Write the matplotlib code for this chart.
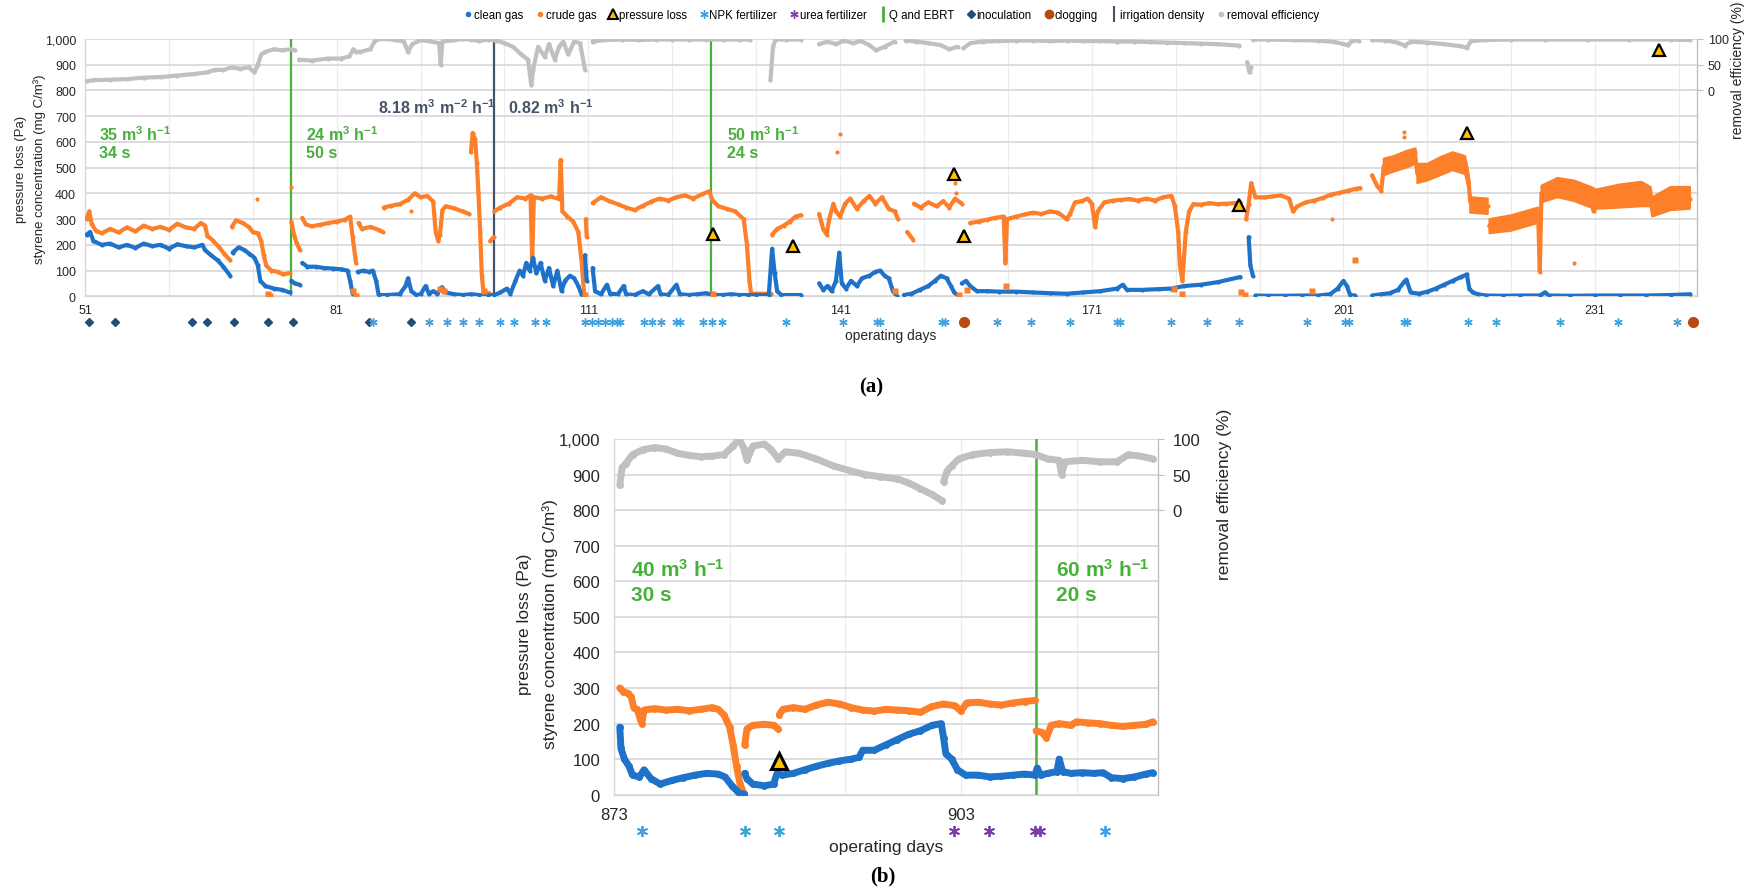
import numpy as np
import matplotlib
matplotlib.use("Agg")
import matplotlib.pyplot as plt
from matplotlib.lines import Line2D
from matplotlib.ticker import FuncFormatter

nan = np.nan
GAP = (nan, nan)

# ---------------- panel (a) data: (operating day, value) ----------------
crude_a = [(51.2, 300), (51.5, 330), (51.8, 280), (52.3, 255), (53, 245), (54, 262), (55, 248), (56, 268),
           (57, 252), (58, 275), (59, 262), (60, 270), (61, 258), (62, 282), (63, 268), (64, 262), (64.8, 285),
           (65.3, 275), (65.6, 235), (66.3, 215), (67, 190), (67.6, 165), (68.3, 140), GAP,
           (68.5, 270), (69, 295), (69.8, 285), (70.5, 270), (71, 250), (71.6, 245), (72, 215), (72.3, 160),
           (72.6, 120), (73.2, 100), (74, 95), (74.6, 85), (75.4, 90), GAP,
           (75.6, 290), (75.9, 240), (76.2, 210), (76.6, 180), GAP,
           (76.9, 305), (77.3, 280), (78, 272), (79, 278), (80, 285), (81, 290), (82, 298), (82.6, 310),
           (82.9, 230), (83.3, 130), GAP,
           (83.6, 285), (84, 262), (85, 270), (86, 258), (86.5, 250), GAP,
           (86.6, 345), (87.5, 352), (88.5, 358), (89.5, 375), (90.3, 400), (91, 385), (91.8, 390), (92.5, 368),
           (92.8, 250), (93.1, 215), (93.3, 240), (93.6, 335), (94, 350), (95, 342), (96, 330), (96.8, 320), GAP,
           (97, 560), (97.2, 635), (97.5, 610), (97.7, 520), (97.9, 400), (98.1, 250), (98.3, 80), (98.5, 15),
           (99.2, 12), GAP,
           (99.3, 215), (99.7, 230), GAP,
           (99.8, 330), (100.5, 345), (101.5, 360), (102.5, 385), (103.5, 380), (104.1, 392), (104.3, 140),
           (104.5, 385), (105.5, 380), (106.5, 388), (107.5, 378), (107.7, 530), (107.9, 330), (108.5, 310),
           (109.2, 290), (109.8, 250), (110.2, 130), (110.5, 10), GAP,
           (110.7, 300), (110.8, 230), GAP,
           (111.5, 362), (112.5, 385), (113.5, 370), (114.5, 358), (115.5, 345), (116.5, 335), (117.5, 352),
           (118.5, 368), (119.5, 380), (120.5, 372), (121.5, 385), (122.5, 392), (123.5, 380), (124.5, 396),
           (125.4, 408), (125.8, 372), (126.5, 350), (127.5, 340), (128.5, 330), (129.5, 300), (129.9, 200),
           (130.2, 60), (130.4, 10), (132.8, 10), GAP,
           (132.9, 240), (133.5, 262), (134.3, 275), (135, 290), (135.7, 310), (136.3, 315), GAP,
           (138.5, 320), (139, 260), (139.4, 240), (139.7, 300), (140.2, 360), (140.5, 330), (141, 310),
           (141.6, 360), (142.2, 380), (143, 340), (143.8, 370), (144.5, 390), (145.2, 360), (146, 385),
           (146.8, 340), (147.5, 330), (147.9, 300), GAP,
           (149, 250), (149.7, 220), GAP,
           (149.8, 360), (150.6, 345), (151.5, 365), (152.5, 350), (153.3, 370), (154, 345), (154.7, 380),
           (155.5, 360), GAP,
           (156.5, 285), (157.5, 290), (158.5, 298), (159.5, 305), (160.5, 310), (160.7, 130), (160.9, 300),
           (162, 310), (163, 318), (164, 325), (165, 320), (166, 330), (167, 325), (168, 300), (168.4, 320),
           (169, 365), (169.8, 370), (170.5, 380), (171, 360), (171.4, 270), (171.7, 330), (172.5, 365),
           (173.5, 372), (174.5, 375), (175.5, 378), (176.5, 372), (177.5, 380), (178.5, 372), (179.5, 385),
           (180.5, 390), (180.9, 350), (181.3, 250), (181.5, 120), (181.8, 60), (182.2, 250), (182.6, 330),
           (183.1, 358), (184, 356), (185, 362), (186, 358), (187, 360), (188, 362), (188.7, 365), GAP,
           (189.4, 300), (189.7, 360), (190, 440), (190.5, 385), (191.5, 384), (192.5, 388), (193.5, 392),
           (194.5, 380), (195, 330), (195.5, 350), (196.5, 365), (197.5, 372), (198.5, 382), (199.5, 395),
           (200.5, 402), (201.5, 410), (202.5, 418), (203, 420), GAP,
           (204.4, 470), (205, 430), (205.5, 410), (205.8, 505), (206.5, 520), (207.5, 525), (208.5, 540),
           (209.5, 560), (209.8, 480), (210.5, 470), (211.5, 495), (212.5, 510), (213.5, 525), (214.5, 540),
           (215.5, 515), (215.9, 450), (216.1, 370), (216.5, 345), (217.5, 355), (218.2, 350), GAP,
           (218.4, 275), (219.5, 270), (220.5, 280), (221.5, 290), (222.5, 300), (223.5, 312), (224.2, 320),
           (224.4, 95), (224.6, 400), (225.5, 415), (226.5, 425), (227.5, 420), (228.5, 410), (229.5, 400),
           (230.5, 385), (230.8, 330), (231.1, 375), (232.5, 378), (233.5, 385), (234.5, 380), (235.5, 392),
           (236.5, 388), (237.5, 380), (237.8, 350), (238.5, 360), (239.5, 368), (240.5, 372), (241.5, 375),
           (242.3, 378)]

# noisy stretches of crude gas: (day, low, high)
crude_band_a = [(205.8, 470, 535), (207, 485, 545), (208.5, 500, 565), (209.6, 515, 575), GAP + (nan,),
                (209.8, 440, 515), (211, 450, 515), (212.5, 470, 540), (214, 490, 560), (215.5, 475, 545),
                (215.9, 420, 480), GAP + (nan,),
                (216.1, 325, 385), (218.2, 320, 380), GAP + (nan,),
                (218.4, 245, 300), (221, 255, 315), (224.2, 285, 345), GAP + (nan,),
                (224.6, 365, 430), (226.5, 385, 460), (228.5, 370, 450), (230.5, 345, 425), (231.1, 340, 415),
                (234, 345, 435), (236.5, 350, 445), (237.6, 350, 425), (237.8, 310, 385), (240, 335, 425),
                (242.3, 340, 425)]

crude_low_a = [(72.8, 10), (73.0, 0), (83.0, 20), (83.3, 0), (93.3, 30), (93.8, 20), (98.6, 20), (110.6, 5),
               (125.8, 8), (147.6, 20), (155.2, 5), (156.1, 25), (160.8, 40), (180.8, 30), (181.8, 10),
               (188.8, 15), (189.3, 5), (197.3, 20), (202.4, 140)]

crude_spikes_a = [(71.5, 380), (75.5, 423), (89.9, 330), (141.0, 630), (140.6, 560), (154.7, 440),
                  (154.8, 400), (199.6, 300), (208.2, 640), (208.2, 620), (228.5, 130)]

clean_a = [(51.2, 240), (51.6, 250), (52, 215), (53, 200), (54, 205), (55, 190), (56, 200), (57, 188), (58, 205),
           (59, 195), (60, 200), (61, 185), (62, 202), (63, 195), (64, 190), (65, 200), (65.3, 180), (66, 160),
           (66.8, 140), (67.5, 115), (68.3, 80), GAP,
           (68.6, 170), (69.3, 190), (70, 180), (70.6, 165), (71.2, 150), (71.6, 120), (71.9, 60), (72.5, 40),
           (73.5, 30), (74.5, 25), (75.4, 15), GAP,
           (75.6, 60), (76, 50), (76.6, 45), GAP,
           (76.9, 130), (77.5, 115), (78.5, 115), (79.5, 110), (80.5, 108), (81.5, 105), (82.3, 100), (82.6, 60),
           (82.9, 10), GAP,
           (83.5, 95), (84.2, 100), (84.8, 95), (85.3, 100), (85.7, 60), (86, 5), (87, 5), (88.5, 8), (89.2, 40),
           (89.5, 70), (89.9, 20), (90.5, 5), (91, 8), (91.6, 40), (92, 10), (92.5, 20), (93, 10), (93.5, 35),
           (94, 15), (95, 8), (96, 5), (97, 8), (98, 5), (99, 3), (99.8, 5), (100.5, 15), (101.3, 30),
           (101.7, 10), (102.3, 60), (102.8, 100), (103.2, 80), (103.6, 130), (104, 100), (104.4, 150),
           (104.8, 90), (105.3, 130), (105.8, 60), (106.3, 110), (106.8, 40), (107.3, 100), (107.8, 20),
           (108.2, 60), (108.8, 80), (109.3, 70), (109.8, 40), (110.2, 5), GAP,
           (110.6, 160), (110.7, 100), (110.8, 60), GAP,
           (111.5, 110), (111.8, 20), (112.5, 8), (113.2, 45), (113.6, 10), (114.5, 8), (115.2, 40), (115.5, 8),
           (116.5, 5), (117.5, 20), (118.2, 8), (119.3, 40), (119.6, 8), (120.5, 5), (121.5, 45), (121.9, 8),
           (123, 5), (124, 8), (125, 12), (126, 5), (127, 5), (128, 8), (129, 5), (130, 5), (131, 5),
           (132.5, 5), (132.9, 185), (133.2, 90), (133.5, 20), (134, 5), (136.3, 5), GAP,
           (138.5, 50), (139, 25), (139.5, 40), (140, 20), (140.5, 60), (140.9, 170), (141.2, 50), (141.7, 30),
           (142.3, 60), (143, 40), (143.6, 70), (144.5, 80), (145.2, 95), (145.8, 100), (146.3, 80),
           (146.8, 70), (147.3, 20), (147.8, 0), GAP,
           (148.6, 5), (149.5, 10), (150.5, 25), (151.5, 40), (152.3, 60), (153, 80), (153.7, 70), (154.2, 40),
           (154.6, 15), (155, 5), GAP,
           (155.5, 50), (156, 60), (156.5, 40), (157.3, 20), (158.5, 20), (160, 18), (162, 18), (164, 15),
           (166, 12), (168, 10), (170, 15), (172, 20), (174, 30), (174.7, 45), (175.2, 25), (177, 25),
           (179, 28), (180.5, 30), (182, 40), (184, 45), (186, 55), (188.7, 75), GAP,
           (189.7, 230), (189.9, 120), (190.2, 80), GAP,
           (190.5, 3), (192, 2), (194, 2), (196, 3), (198, 3), (199.4, 8), (200.3, 30), (201, 60), (201.4, 40),
           (201.8, 5), (202.4, 3), GAP,
           (204.4, 3), (205.5, 8), (206.5, 12), (207.5, 25), (208.2, 55), (208.5, 65), (209, 15), (210, 10),
           (211, 18), (212, 30), (213, 45), (214, 60), (215, 75), (215.7, 85), (216, 30), (216.4, 15), (217, 8),
           (218, 3), (220, 2), (222, 3), (224.4, 3), (225, 15), (225.5, 3), (228, 2), (231, 3), (234, 3),
           (237, 3), (240, 5), (242.3, 8)]

# removal efficiency in %
removal_a = [(51.2, 18), (52, 20), (54, 21), (56, 22), (58, 25), (60, 26), (62, 29), (64, 32), (65.5, 35),
             (66.5, 40), (67.5, 40), (68.5, 45), (69.5, 42), (70.5, 45), (71.2, 35), (71.6, 50), (72, 70),
             (72.5, 75), (73.5, 80), (74.5, 78), (75.5, 80), (76, 78), GAP,
             (76.5, 60), (78, 58), (80, 62), (81.5, 62), (82.5, 66), (83, 80), (83.3, 75), (83.8, 75), (85, 80),
             (85.5, 95), (86, 100), (87, 100), (88, 98), (89, 95), (89.5, 75), (90, 90), (91, 98), (92, 96),
             (93.2, 92), (93.4, 50), (93.6, 95), (95, 98), (96, 100), (97, 99), (98, 96), (99, 99), (100, 97),
             (101, 92), (102, 85), (103, 70), (103.8, 60), (104.2, 10), (104.4, 40), (105, 85), (105.8, 65),
             (106.3, 90), (107, 60), (107.5, 85), (108, 95), (108.6, 70), (109.3, 95), (110, 92), (110.6, 40), GAP,
             (111.5, 95), (113, 98), (115, 99), (117, 98), (119, 99), (121, 99), (123, 99), (125, 99), (127, 99),
             (129, 99), (130.3, 99), GAP,
             (132.7, 20), (133, 85), (133.3, 99), (134.5, 99), (136.3, 99), GAP,
             (138.5, 90), (139.5, 95), (140.5, 90), (141.5, 97), (142.5, 92), (143.5, 96), (144.5, 88),
             (145.3, 78), (146.3, 85), (147.5, 95), GAP,
             (148.8, 97), (150, 95), (151.5, 92), (153, 88), (154, 80), (155, 85), GAP,
             (155.7, 82), (156.5, 92), (158, 95), (160, 96), (162, 97), (164, 97), (166, 96), (168, 97),
             (170, 96), (172, 96), (174, 95), (176, 95), (178, 94), (180, 93), (182, 92), (184, 91), (186, 90),
             (188.6, 87), GAP,
             (189.5, 55), (189.8, 35), (190, 45), GAP,
             (190.2, 99), (192, 99), (195, 98), (198, 97), (200, 94), (201.5, 88), (202, 96), (202.8, 97), GAP,
             (204.4, 98), (206, 97), (207.5, 93), (208.3, 87), (209, 95), (211, 93), (213, 90), (215, 86),
             (215.7, 83), (216.2, 96), (218, 98), (221, 99), (225, 99), (230, 99), (235, 99), (240, 99),
             (242.3, 98)]

pressure_a = [(125.8, 242), (135.4, 197), (154.6, 475), (155.8, 236), (188.6, 355), (215.7, 635), (238.6, 957)]
inoculation_a = [51.5, 54.6, 63.7, 65.6, 68.7, 72.8, 75.8, 84.8, 89.9]
clogging_a = [155.8, 242.7]
npk_a = [85.3, 92.0, 94.1, 96.1, 98.0, 100.5, 102.1, 104.6, 106.0, 110.6, 111.4, 112.2, 113.0, 113.8, 114.4,
         114.8, 117.6, 118.6, 119.6, 121.5, 121.9, 124.7, 125.7, 126.9, 134.6, 141.4, 145.4, 145.8, 153.1,
         153.5, 159.7, 163.7, 168.4, 174.0, 174.4, 180.5, 184.7, 188.5, 196.7, 201.2, 201.6, 208.2, 208.6,
         215.8, 219.2, 226.8, 233.7, 240.7]
q_change_a = [75.55, 125.6]
irrigation_a = [99.75]

# ---------------- panel (b) data ----------------
crude_b = [(873.5, 300), (873.8, 290), (874.2, 285), (874.5, 275), (874.7, 245), (875, 240), (875.4, 200),
           (875.6, 238), (876.5, 242), (877.5, 238), (878.5, 240), (879.5, 236), (880.5, 240), (881.5, 245),
           (882, 240), (882.5, 225), (883, 190), (883.3, 140), (883.6, 80), (883.9, 30), (884.2, 5), GAP,
           (884.3, 140), (884.5, 185), (885, 195), (886, 198), (886.8, 195), (887.2, 185), GAP,
           (887.3, 225), (887.6, 240), (888.5, 245), (889.5, 240), (890.5, 252), (891.5, 260), (892.5, 255),
           (893.5, 245), (894.5, 238), (895.5, 235), (896.5, 240), (897.5, 238), (898.5, 236), (899.5, 232),
           (900.5, 248), (901.5, 255), (902.5, 250), (903, 235), (903.5, 258), (904.5, 260), (905.5, 255),
           (906.5, 252), (907.5, 258), (908.5, 262), (909.4, 265), GAP,
           (909.5, 180), (910, 175), (910.4, 160), (910.8, 195), (911.5, 200), (912.5, 195), (913, 205),
           (914, 202), (915, 200), (916, 195), (917, 192), (918, 195), (919, 198), (919.6, 205)]

clean_b = [(873.5, 190), (873.6, 130), (873.9, 100), (874.3, 80), (874.6, 55), (875.2, 50), (875.6, 70),
           (876.2, 45), (877, 30), (878, 40), (879, 48), (880, 55), (881, 60), (882, 58), (882.6, 50),
           (883.2, 25), (883.8, 5), (884.2, 2), GAP,
           (884.3, 60), (884.5, 45), (885, 30), (886, 25), (886.8, 30), (887.1, 60), (887.5, 55), (888.5, 60),
           (889.5, 70), (890.5, 80), (891.5, 88), (892.5, 95), (893.5, 100), (894.2, 105), (894.5, 125),
           (895.5, 125), (896.5, 140), (897.5, 155), (898.5, 170), (899.5, 180), (900.5, 195), (901.3, 200),
           (901.5, 160), (901.7, 115), (902.2, 100), (902.7, 70), (903.4, 55), (904.5, 55), (905.5, 50),
           (906.5, 52), (907.5, 55), (908.5, 58), (909.4, 55), (909.6, 75), (909.9, 55), (910.5, 60),
           (911.3, 65), (911.5, 100), (911.8, 65), (912.5, 60), (913.5, 62), (914.5, 60), (915.3, 62),
           (916, 48), (917, 45), (918, 50), (919, 58), (919.6, 62)]

removal_b = [(873.5, 35), (873.7, 60), (874, 65), (874.6, 78), (875.5, 85), (876.5, 88), (877.5, 86),
             (878.5, 80), (879.5, 77), (880.5, 75), (881.5, 76), (882.5, 78), (883.3, 90), (883.8, 100),
             (884.2, 88), (884.5, 70), (885, 90), (886, 93), (886.6, 85), (887.2, 72), (887.8, 82), (889, 80),
             (890.5, 72), (892, 62), (893.5, 55), (894.7, 50), (896, 47), (897.5, 44), (898.5, 38), (899.5, 30),
             (900.5, 22), (901.4, 13), GAP,
             (901.5, 40), (901.8, 55), (902.2, 62), (902.8, 72), (904, 78), (905.5, 81), (907, 82), (908.5, 80),
             (909.5, 78), (910.5, 72), (911.5, 70), (911.7, 50), (912, 68), (913.5, 70), (915, 68), (916.5, 68),
             (917.5, 78), (918.5, 76), (919.6, 72)]

pressure_b = [(887.3, 96)]
npk_b = [875.4, 884.3, 887.3, 915.5]
urea_b = [902.4, 905.4, 909.4, 909.8]
q_change_b = [909.5]

# ---------------- styling ----------------
BLUE = "#1f72c9"
ORANGE = "#fd7f2a"
GRAY = "#c0c0c0"
GREEN = "#46b03a"
SLATE = "#44546a"
DIAMOND = "#1f4e79"
NPK = "#3fa2e0"
UREA = "#7d3ca8"
CLOG = "#b84a0d"
TRI = "#ffc000"
ASTER = (6, 2, 0)

NARROW = ["Liberation Sans Narrow", "Liberation Sans", "DejaVu Sans"]
REGULAR = ["Liberation Sans", "DejaVu Sans"]
plt.rcParams["font.family"] = REGULAR
plt.rcParams["mathtext.fontset"] = "custom"
plt.rcParams["mathtext.rm"] = "Liberation Sans"
plt.rcParams["mathtext.bf"] = "Liberation Sans:bold"
plt.rcParams["mathtext.it"] = "Liberation Sans:italic"

W, H = 1760, 895


def xy(points):
    arr = np.array(points, dtype=float)
    return arr[:, 0], arr[:, 1]


def style_axes(ax, ax2, fs, fam, xticks, label_every, lpad, bpad, rpad):
    ax.set_ylim(0, 1000)
    ax.set_yticks(np.arange(0, 1001, 100))
    ax.yaxis.set_major_formatter(FuncFormatter(lambda v, p: f"{int(v):,}"))
    ax.set_xticks(xticks)
    ax.set_xticklabels([str(d) if (d - xticks[0]) % label_every == 0 else "" for d in xticks])
    ax.yaxis.grid(True, color="#dadada", lw=1.3)
    ax.xaxis.grid(True, color="#ececec", lw=0.9)
    ax.set_axisbelow(True)
    for s in ["left", "bottom", "right"]:
        ax.spines[s].set_color("#d9d9d9")
        ax.spines[s].set_linewidth(1.0)
    ax.spines["top"].set_visible(False)
    ax.tick_params(axis="y", length=0, pad=lpad)
    ax.tick_params(axis="x", length=0, pad=bpad)
    for lab in ax.get_xticklabels() + ax.get_yticklabels():
        lab.set_fontfamily(fam)
        lab.set_fontsize(fs)
        lab.set_color("#262626")
    ax2.set_ylim(-400, 100)
    ax2.set_yticks([0, 50, 100])
    for s in ["left", "bottom", "top"]:
        ax2.spines[s].set_visible(False)
    ax2.spines["right"].set_color("#bfbfbf")
    ax2.tick_params(axis="y", length=4, color="#bfbfbf", pad=rpad)
    for lab in ax2.get_yticklabels():
        lab.set_fontfamily(fam)
        lab.set_fontsize(fs)
        lab.set_color("#262626")


def draw_series(ax, pts, color, lw, ms):
    x, y = xy(pts)
    ax.plot(x, y, color=color, lw=lw, solid_capstyle="round", solid_joinstyle="round",
            marker="o", ms=ms, mec="none", zorder=3)


fig = plt.figure(figsize=(W / 100, H / 100), dpi=100)

# ---------------- panel (a) ----------------
ax_a = fig.add_axes([85 / W, 1 - 297.3 / H, (1696.7 - 85) / W, (297.3 - 40) / H])
ax_a.set_xlim(51, 243.1)
ax_a2 = ax_a.twinx()
style_axes(ax_a, ax_a2, 9, NARROW, list(range(51, 244, 10)), 30, 6.5, 5.5, 4)

for d in q_change_a:
    ax_a.axvline(d, color=GREEN, lw=1.6, zorder=2)
for d in irrigation_a:
    ax_a.axvline(d, color=SLATE, lw=1.6, zorder=2)

band = np.array(crude_band_a, dtype=float)
ax_a.fill_between(band[:, 0], band[:, 1], band[:, 2], color=ORANGE, lw=1.5, ec=ORANGE, zorder=3)
draw_series(ax_a, crude_a, ORANGE, 3.0, 3.0)
draw_series(ax_a, clean_a, BLUE, 3.0, 3.0)
cx, cy = xy(crude_low_a)
ax_a.plot(cx, cy, ls="none", marker="s", ms=4, color=ORANGE, mec="none", zorder=3)
sx, sy = xy(crude_spikes_a)
ax_a.plot(sx, sy, ls="none", marker="o", ms=3, color=ORANGE, mec="none", zorder=3)
gx, gy = xy(removal_a)
ax_a2.plot(gx, gy, color=GRAY, lw=3.0, solid_capstyle="round", marker="o", ms=3.0, mec="none", zorder=3)
px_, py_ = xy(pressure_a)
ax_a.plot(px_, py_, ls="none", marker="^", ms=8, mfc=TRI, mec="black", mew=1.6, zorder=6, clip_on=False)

tr_a = ax_a.get_xaxis_transform()
ax_a.plot(inoculation_a, [-0.101] * len(inoculation_a), ls="none", marker="D", ms=4.2, color=DIAMOND,
          transform=tr_a, clip_on=False)
ax_a.plot(npk_a, [-0.101] * len(npk_a), ls="none", marker=ASTER, ms=6, mew=1.0, color=NPK,
          transform=tr_a, clip_on=False)
ax_a.plot(clogging_a, [-0.101] * len(clogging_a), ls="none", marker="o", ms=7, color=CLOG,
          transform=tr_a, clip_on=False)

ax_a.text(0.5, -0.150, "operating days", transform=ax_a.transAxes, ha="center", va="center",
          fontsize=10, family=NARROW, color="#262626")

ann_a = dict(fontsize=11.5, fontweight="bold", family=NARROW, va="center", ha="left", zorder=7)
ax_a.text(52.7, 631, r"35 m$^{\mathbf{3}}$ h$^{\mathbf{-1}}$", color=GREEN, **ann_a)
ax_a.text(52.7, 560, "34 s", color=GREEN, **ann_a)
ax_a.text(77.4, 631, r"24 m$^{\mathbf{3}}$ h$^{\mathbf{-1}}$", color=GREEN, **ann_a)
ax_a.text(77.4, 560, "50 s", color=GREEN, **ann_a)
ax_a.text(85.9, 737, r"8.18 m$^{\mathbf{3}}$ m$^{\mathbf{-2}}$ h$^{\mathbf{-1}}$", color=SLATE, **ann_a)
ax_a.text(101.45, 737, r"0.82 m$^{\mathbf{3}}$ h$^{\mathbf{-1}}$", color=SLATE, **ann_a)
ax_a.text(127.55, 631, r"50 m$^{\mathbf{3}}$ h$^{\mathbf{-1}}$", color=GREEN, **ann_a)
ax_a.text(127.55, 560, "24 s", color=GREEN, **ann_a)

fig.text(21 / W, 1 - 169 / H, "pressure loss (Pa)", rotation=90, ha="center", va="center",
         fontsize=9.5, color="#262626")
fig.text(40 / W, 1 - 169 / H, "styrene concentration (mg C/m³)", rotation=90, ha="center", va="center",
         fontsize=9.5, color="#262626")
fig.text(1738 / W, 1 - 70 / H, "removal efficiency (%)", rotation=90, ha="center", va="center",
         fontsize=10, color="#262626")

# ---------------- panel (b) ----------------
ax_b = fig.add_axes([614 / W, 1 - 795.7 / H, (1157.5 - 614) / W, (795.7 - 440) / H])
ax_b.set_xlim(873, 920)
ax_b2 = ax_b.twinx()
style_axes(ax_b, ax_b2, 12, REGULAR, list(range(873, 921, 10)), 30, 10, 8.5, 7)

for d in q_change_b:
    ax_b.axvline(d, color=GREEN, lw=1.8, zorder=2)

draw_series(ax_b, crude_b, ORANGE, 5.0, 5.0)
draw_series(ax_b, clean_b, BLUE, 5.0, 5.0)
gx, gy = xy(removal_b)
ax_b2.plot(gx, gy, color=GRAY, lw=5.0, solid_capstyle="round", marker="o", ms=5.0, mec="none", zorder=3)
px_, py_ = xy(pressure_b)
ax_b.plot(px_, py_, ls="none", marker="^", ms=12, mfc=TRI, mec="black", mew=2.2, zorder=6)

tr_b = ax_b.get_xaxis_transform()
ax_b.plot(npk_b, [-0.101] * len(npk_b), ls="none", marker=ASTER, ms=8, mew=1.3, color=NPK,
          transform=tr_b, clip_on=False)
ax_b.plot(urea_b, [-0.101] * len(urea_b), ls="none", marker=ASTER, ms=8, mew=1.3, color=UREA,
          transform=tr_b, clip_on=False)

ax_b.text(0.5, -0.147, "operating days", transform=ax_b.transAxes, ha="center", va="center",
          fontsize=12.5, color="#262626")

ann_b = dict(fontsize=15, fontweight="bold", va="center", ha="left", zorder=7)
ax_b.text(874.45, 634, r"40 m$^{\mathbf{3}}$ h$^{\mathbf{-1}}$", color=GREEN, **ann_b)
ax_b.text(874.45, 562, "30 s", color=GREEN, **ann_b)
ax_b.text(911.2, 634, r"60 m$^{\mathbf{3}}$ h$^{\mathbf{-1}}$", color=GREEN, **ann_b)
ax_b.text(911.2, 562, "20 s", color=GREEN, **ann_b)

fig.text(524 / W, 1 - 624 / H, "pressure loss (Pa)", rotation=90, ha="center", va="center",
         fontsize=12.5, color="#262626")
fig.text(550 / W, 1 - 624 / H, "styrene concentration (mg C/m³)", rotation=90, ha="center", va="center",
         fontsize=12.5, color="#262626")
fig.text(1224 / W, 1 - 494 / H, "removal efficiency (%)", rotation=90, ha="center", va="center",
         fontsize=12.5, color="#262626")

# panel tags
fig.text(871 / W, 1 - 387 / H, "(a)", ha="center", va="center", fontsize=15, fontweight="bold",
         family=["Liberation Serif", "DejaVu Serif"])
fig.text(883 / W, 1 - 876 / H, "(b)", ha="center", va="center", fontsize=15, fontweight="bold",
         family=["Liberation Serif", "DejaVu Serif"])

# ---------------- legend ----------------
handles = [
    Line2D([], [], ls="none", marker="o", ms=3, color=BLUE, label="clean gas"),
    Line2D([], [], ls="none", marker="o", ms=3, color=ORANGE, label="crude gas"),
    Line2D([], [], ls="none", marker="^", ms=7, mfc=TRI, mec="black", mew=1.5, label="pressure loss"),
    Line2D([], [], ls="none", marker=ASTER, ms=6, mew=1.0, color=NPK, label="NPK fertilizer"),
    Line2D([], [], ls="none", marker=ASTER, ms=6, mew=1.0, color=UREA, label="urea fertilizer"),
    Line2D([], [], ls="none", marker="|", ms=11, mew=2, color=GREEN, label="Q and EBRT"),
    Line2D([], [], ls="none", marker="D", ms=4, color=DIAMOND, label="inoculation"),
    Line2D([], [], ls="none", marker="o", ms=6, color=CLOG, label="clogging"),
    Line2D([], [], ls="none", marker="|", ms=11, mew=1.5, color=SLATE, label="irrigation density"),
    Line2D([], [], ls="none", marker="o", ms=3, color=GRAY, label="removal efficiency"),
]
fig.legend(handles=handles, loc="center", bbox_to_anchor=(891 / W, 1 - 16 / H), ncol=10, frameon=False,
           prop={"family": NARROW, "size": 8.3}, handletextpad=0.05, columnspacing=1.0, handlelength=0.9,
           borderpad=0)

fig.savefig("out.png", dpi=100)
